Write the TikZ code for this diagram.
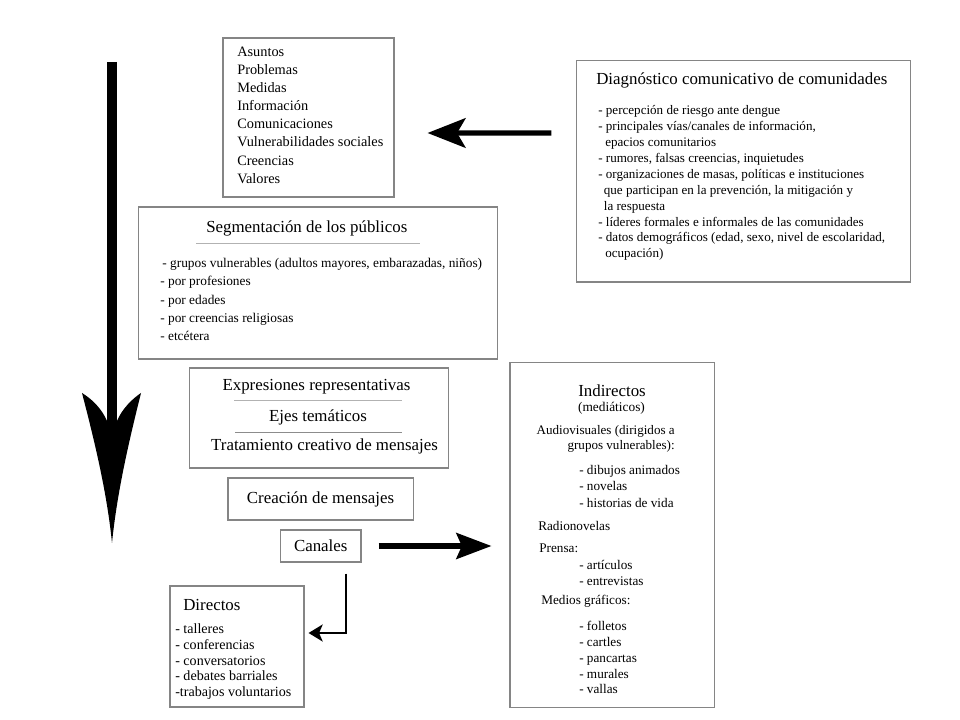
\documentclass[tikz,border=0pt]{standalone}
\usepackage{fontspec}
\setmainfont{Liberation Serif}
\usetikzlibrary{arrows.meta}

\begin{document}
\begin{tikzpicture}[x=0.025cm, y=-0.025cm,
  box/.style={draw=black!48, line width=0.75pt, inner sep=0pt},
  txt/.style={inner sep=0pt, align=left, anchor=north west},
  ttl/.style={inner sep=0pt, font=\fontsize{12}{14}\selectfont},
  sep/.style={draw=black!30, line width=0.6pt},
  arr/.style={line width=3.6pt, -{Stealth[length=27pt, width=21pt, inset=6pt]}},
  arrb/.style={line width=3.6pt, -{Stealth[length=25pt, width=18.5pt, inset=4pt]}},
  arrs/.style={line width=2pt, -{Stealth[length=10pt, width=12pt, inset=2.5pt]}}
]
\useasboundingbox (0,0) rectangle (960,720);

% boxes
\node[box, minimum width=4.275cm, minimum height=3.975cm] (asuntos) at (308.5,117.5) {};
\node[box, minimum width=8.325cm, minimum height=5.525cm] (diag) at (743.5,171.5) {};
\node[box, minimum width=8.95cm, minimum height=3.8cm] (seg) at (318,283) {};
\node[box, minimum width=6.45cm, minimum height=2.5cm] (expr) at (319,418) {};
\node[box, ttl, minimum width=4.625cm, minimum height=1.05cm] (crea) at (320.5,499) {Creación de mensajes};
\node[box, ttl, minimum width=2.0125cm, minimum height=0.8cm] (canales) at (320.75,546) {Canales};
\node[box, minimum width=5.1cm, minimum height=8.6cm] (indir) at (612,535) {};
\node[box, minimum width=3.35cm, minimum height=3.025cm] (direc) at (237,646.5) {};

% texts
\node[txt, font=\fontsize{10.2}{12.9}\selectfont] (asuntoslist) at (237,46.5)
  {Asuntos\\Problemas\\Medidas\\Información\\Comunicaciones\\Vulnerabilidades sociales\\Creencias\\Valores};

\node[ttl, anchor=base west] (diagtitle) at (596,85) {Diagnóstico comunicativo de comunidades};
\node[txt, font=\fontsize{9.3}{11.3}\selectfont] (diaglist) at (598,105.5)
  {- percepción de riesgo ante dengue\\
   - principales vías/canales de información,\\
   \hspace*{5pt}epacios comunitarios\\
   - rumores, falsas creencias, inquietudes\\
   - organizaciones de masas, políticas e instituciones\\
   \hspace*{4pt}que participan en la prevención, la mitigación y\\
   \hspace*{4pt}la respuesta\\
   - líderes formales e informales de las comunidades\\
   - datos demográficos (edad, sexo, nivel de escolaridad,\\
   \hspace*{5pt}ocupación)};

\node[ttl, anchor=base west] (segtitle) at (206,233) {Segmentación de los públicos};
\draw[sep] (196,243) -- (420,243);
\node[txt, font=\fontsize{9.5}{13}\selectfont] (seglist) at (160,258)
  {\hspace*{1.5pt}- grupos vulnerables (adultos mayores, embarazadas, niños)\\
   - por profesiones\\- por edades\\- por creencias religiosas\\- etcétera};

\node[ttl, anchor=base] (expresiones) at (316.5,391) {Expresiones representativas};
\draw[sep] (234,400) -- (402,400);
\node[ttl, anchor=base] (ejes) at (318,422) {Ejes temáticos};
\draw[sep, draw=black!45] (235,432) -- (402,432);
\node[ttl, anchor=base] (tratamiento) at (324.5,451) {Tratamiento creativo de mensajes};

\node[ttl, anchor=base] (inditle) at (612,397) {Indirectos};
\node[inner sep=0pt, anchor=base, font=\fontsize{9.5}{11}\selectfont] (medi) at (611.5,412) {(mediáticos)};
\node[inner sep=0pt, align=right, anchor=north east, font=\fontsize{9.3}{10.9}\selectfont] (audio) at (675,425)
  {Audiovisuales (dirigidos a\\grupos vulnerables):};
\node[txt, font=\fontsize{9.4}{11.4}\selectfont] (audiolist) at (579,465.5)
  {- dibujos animados\\- novelas\\- historias de vida};
\node[inner sep=0pt, anchor=base west, font=\fontsize{9.4}{11.4}\selectfont] (radio) at (538,530.5) {Radionovelas};
\node[inner sep=0pt, anchor=base west, font=\fontsize{9.4}{11.4}\selectfont] (prensa) at (539,552.3) {Prensa:};
\node[txt, font=\fontsize{9.4}{11.4}\selectfont] (prensalist) at (579,560)
  {- artículos\\- entrevistas};
\node[inner sep=0pt, anchor=base west, font=\fontsize{9.4}{11.4}\selectfont] (graficos) at (541,604) {Medios gráficos:};
\node[txt, font=\fontsize{9.4}{11.25}\selectfont] (graficoslist) at (579,621)
  {- folletos\\- cartles\\- pancartas\\- murales\\- vallas};

\node[ttl, anchor=base west] (directitle) at (183,610) {Directos};
\node[txt, font=\fontsize{10}{11.2}\selectfont] (direclist) at (175,623.5)
  {- talleres\\- conferencias\\- conversatorios\\- debates barriales\\-trabajos voluntarios};

% flow arrow on the left
\coordinate (flowtop) at (112,62);
\coordinate (flowtip) at (112,543);
\draw[line width=7.8pt] (flowtop) -- ++(0,362);
\fill[shift={(flowtip)}] (-30,-150) .. controls (-20,-144) and (-10,-134) .. (-5,-122)
  -- (5,-122) .. controls (10,-134) and (20,-144) .. (29,-150)
  .. controls (16.5,-100) and (5,-50) .. (0,0)
  .. controls (-5,-50) and (-17,-100) .. cycle;

% connectors
\draw[arr] ([shift={(-25,-38.5)}]diag.west) -- ([shift={(33,15.5)}]asuntos.east);
\draw[arrb] ([shift={(17,0)}]canales.east) -- ([shift={(-18,11)}]indir.west);
\draw[arrs] ([shift={(25.25,11)}]canales.south) |- ([shift={(4,-13.5)}]direc.east);
\end{tikzpicture}
\end{document}
